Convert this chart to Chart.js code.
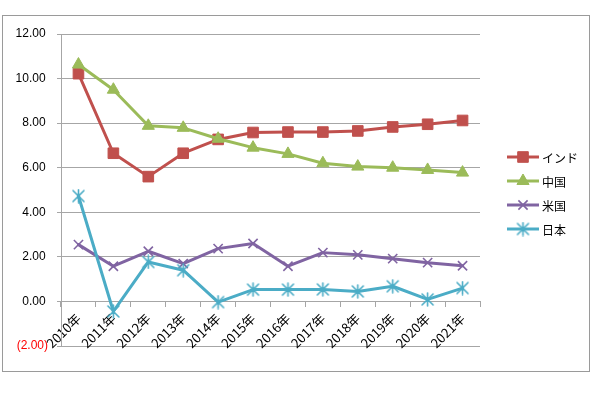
<!DOCTYPE html>
<html>
<head>
<meta charset="utf-8">
<script src="https://cdn.jsdelivr.net/npm/chart.js@4/dist/chart.umd.min.js"></script>
<style>
html,body{margin:0;padding:0;background:#fff;}
#wrap{position:relative;width:591px;height:419px;}
</style>
</head>
<body>
<div id="wrap"><canvas id="c" width="591" height="419"></canvas></div>
<script>
const categories = ['2010年','2011年','2012年','2013年','2014年','2015年','2016年','2017年','2018年','2019年','2020年','2021年'];
const seriesNames = ['インド','中国','米国','日本'];
const india = [10.22, 6.65, 5.60, 6.65, 7.27, 7.58, 7.60, 7.60, 7.65, 7.83, 7.95, 8.12];
const china = [10.63, 9.50, 7.88, 7.79, 7.30, 6.90, 6.62, 6.20, 6.05, 6.00, 5.90, 5.78];
const usa   = [2.55, 1.58, 2.25, 1.70, 2.37, 2.60, 1.58, 2.19, 2.09, 1.92, 1.74, 1.60];
const japan = [4.73, -0.45, 1.77, 1.40, -0.03, 0.53, 0.53, 0.54, 0.45, 0.68, 0.09, 0.60];
const yTicks = [-2, 0, 2, 4, 6, 8, 10, 12];

const colors = ['#C0504D', '#9BBB59', '#8064A2', '#4BACC6'];
const radii = [7.5, 7, 6.5, 7];
const values = [india, china, usa, japan];

// Excel-like asterisk marker (X plus vertical stroke)
function makeAsterisk(color) {
  const s = 15, c = document.createElement('canvas');
  c.width = s; c.height = s;
  const g = c.getContext('2d');
  g.strokeStyle = color; g.lineWidth = 1.6; g.lineCap = 'round';
  g.beginPath();
  g.moveTo(2, 2); g.lineTo(s - 2, s - 2);
  g.moveTo(s - 2, 2); g.lineTo(2, s - 2);
  g.moveTo(s / 2, 1); g.lineTo(s / 2, s - 1);
  g.stroke();
  return c;
}
const styles = ['rect', 'triangle', 'crossRot', makeAsterisk(colors[3])];

const FONT = '"Liberation Sans", Arial, "Noto Sans CJK JP", sans-serif';
const GRID = '#A6A6A6';

const datasets = values.map((v, i) => ({
  label: seriesNames[i],
  data: v,
  borderColor: colors[i],
  backgroundColor: colors[i],
  borderWidth: 3,
  borderJoinStyle: 'round',
  borderCapStyle: 'round',
  tension: 0,
  pointStyle: styles[i],
  pointRadius: radii[i],
  pointHoverRadius: radii[i],
  pointBorderColor: colors[i],
  pointBackgroundColor: colors[i],
  pointBorderWidth: i >= 2 ? 1.6 : 1,
  order: 3 - i
}));

const frameAndLegend = {
  id: 'frameAndLegend',
  beforeDraw(chart) {
    const ctx = chart.ctx;
    ctx.save();
    ctx.fillStyle = '#fff';
    ctx.fillRect(0, 0, chart.width, chart.height);
    ctx.strokeStyle = '#9A9A9A';
    ctx.lineWidth = 1;
    ctx.strokeRect(2.5, 15.5, 587, 356);
    ctx.restore();
  },
  afterDraw(chart) {
    const ctx = chart.ctx;
    ctx.save();
    const x0 = 507, x1 = 539, tx = 542;
    const ys = [157, 181, 205, 229];
    chart.data.datasets.forEach((ds, i) => {
      const y = ys[i];
      ctx.strokeStyle = ds.borderColor;
      ctx.lineWidth = 3;
      ctx.lineCap = 'butt';
      ctx.beginPath();
      ctx.moveTo(x0, y);
      ctx.lineTo(x1, y);
      ctx.stroke();
      ctx.fillStyle = ds.pointBackgroundColor;
      ctx.strokeStyle = ds.pointBorderColor;
      ctx.lineWidth = ds.pointBorderWidth;
      Chart.helpers.drawPoint(ctx, {pointStyle: ds.pointStyle, rotation: 0, radius: ds.pointRadius, borderWidth: ds.pointBorderWidth}, (x0 + x1) / 2, y);
      ctx.fillStyle = '#000';
      ctx.font = '12px "Noto Sans CJK JP", sans-serif';
      ctx.textBaseline = 'middle';
      ctx.textAlign = 'left';
      ctx.fillText(ds.label, tx, y + 1);
    });
    ctx.restore();
  }
};

new Chart(document.getElementById('c'), {
  type: 'line',
  data: { labels: categories, datasets },
  plugins: [frameAndLegend],
  options: {
    responsive: false,
    animation: false,
    events: [],
    layout: { padding: { left: 4, top: 34, right: 111, bottom: 73 } },
    plugins: { legend: { display: false }, tooltip: { enabled: false } },
    scales: {
      x: {
        type: 'category',
        position: { y: 0 },
        offset: true,
        grid: { display: true, drawOnChartArea: false, drawTicks: true, tickLength: 5, color: GRID, offset: true },
        border: { display: true, color: GRID, width: 1 },
        ticks: {
          minRotation: 45, maxRotation: 45, autoSkip: false,
          color: '#000', padding: 4,
          font: { family: '"Noto Sans CJK JP", "Liberation Sans", sans-serif', size: 13 }
        }
      },
      y: {
        min: -2, max: 12,
        afterFit(scale) { scale.width = 57; },
        afterBuildTicks(scale) { scale.ticks = yTicks.map(v => ({ value: v })); },
        grid: { color: GRID, lineWidth: 1, tickLength: 4, drawTicks: true },
        border: { display: true, color: GRID, width: 1 },
        ticks: {
          padding: 9,
          color: ctx => (ctx.tick && ctx.tick.value < 0) ? '#FF0000' : '#000',
          font: { family: FONT, size: 12 },
          callback: v => v < 0 ? '(' + Math.abs(v).toFixed(2) + ')' : v.toFixed(2) + '\u2009'
        }
      }
    }
  }
});
</script>
</body>
</html>
